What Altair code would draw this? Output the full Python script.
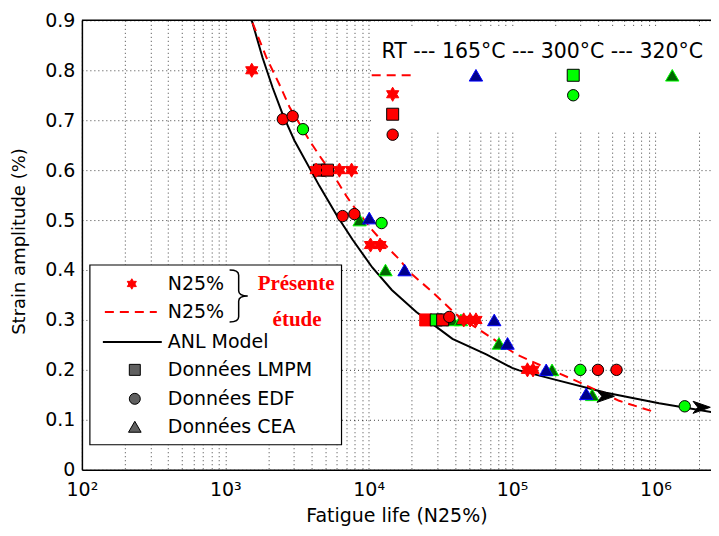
import altair as alt
import pandas as pd

# ---------------- data ----------------
# ANL model curve
anl_N = [1530, 1820, 2140, 2510, 3040, 4540, 5970, 7710, 10600, 14500, 21500, 27800,
         38400, 66100, 100000, 112000, 190000, 453000, 1060000, 2730000]
anl_eps = [0.900, 0.825, 0.765, 0.712, 0.659, 0.568, 0.510, 0.461, 0.405, 0.360, 0.316, 0.292,
           0.262, 0.231, 0.204, 0.199, 0.182, 0.154, 0.133, 0.113]

# N25% fit (présente étude), dashed
fit_N = [1550, 1940, 2390, 2810, 3870, 4540, 5970, 7000, 7710, 10600, 13950, 16400, 19200,
         27800, 40800, 66100, 107000, 173000, 280000, 558000, 1000000]
fit_eps = [0.895, 0.825, 0.771, 0.726, 0.659, 0.629, 0.580, 0.548, 0.530, 0.480, 0.441, 0.421,
           0.396, 0.356, 0.311, 0.271, 0.231, 0.204, 0.178, 0.138, 0.115]

# N25% points (RT)
star_N = [1530, 4300, 6250, 7600, 10300, 12000, 46000, 51000, 56000, 128000, 140000]
star_eps = [0.80, 0.60, 0.60, 0.60, 0.45, 0.45, 0.30, 0.30, 0.30, 0.20, 0.20]

# LMPM squares
sq_rt_N = [4540, 5160, 32800]
sq_rt_eps = [0.60, 0.60, 0.30]
sq_rt2_N = [25000]
sq_rt2_eps = [0.30]
sq_300_N = [29600]
sq_300_eps = [0.30]

# EDF circles
ci_rt_N = [2520, 2950, 6580, 7950, 36500, 397000, 535000]
ci_rt_eps = [0.702, 0.708, 0.508, 0.512, 0.306, 0.20, 0.20]
ci_300_N = [3480, 12300, 299000, 1600000]
ci_300_eps = [0.682, 0.494, 0.20, 0.127]

# CEA triangles
tri_165_N = [10100, 17800, 75100, 93000, 173000, 329000]
tri_165_eps = [0.504, 0.40, 0.30, 0.253, 0.20, 0.152]
tri_320_N = [8650, 13100, 38500, 44000, 81000, 190000, 362000]
tri_320_eps = [0.50, 0.40, 0.30, 0.30, 0.253, 0.20, 0.15]

# run-outs (arrows)
run_N = [450000, 2100000]
run_eps = [0.147, 0.125]

# temperature key (top right), placed in data space as in the original
key_line_N = [10500, 21500]
key_line_eps = [0.79, 0.79]
key_star = ([14700], [0.752])
key_sq_rt = ([14700], [0.712])
key_ci_rt = ([14700], [0.671])
key_tri_165 = ([56000], [0.79])
key_sq_300 = ([267000], [0.79])
key_ci_300 = ([267000], [0.75])
key_tri_320 = ([1310000], [0.79])
key_title = "RT --- 165°C --- 300°C --- 320°C"
key_title_pos = ([12300], [0.836])

x_grid = [k * 10 ** d for d in range(2, 7) for k in range(1, 10) if k * 10 ** d <= 2.44e6]
y_ticks = [round(0.1 * i, 1) for i in range(10)]

W, H = 630, 450
FONT = "DejaVu Sans"

xs = alt.Scale(type="log", domain=[100, 2.44e6], nice=False)
ys = alt.Scale(domain=[0, 0.9], nice=False)

label_expr = ("datum.value == 100 ? '10²' : datum.value == 1000 ? '10³' : "
              "datum.value == 10000 ? '10⁴' : datum.value == 100000 ? '10⁵' : "
              "datum.value == 1000000 ? '10⁶' : ''")

X = alt.X("N:Q", scale=xs, axis=alt.Axis(
    values=x_grid, labelExpr=label_expr, title="Fatigue life (N25%)", ticks=False,
    labelOverlap=False, labelFlush=False, labelPadding=11, labelFontSize=19,
    titleY=46, titleBaseline="middle", titleFontSize=19, titleFontWeight="normal"))
Y = alt.Y("eps:Q", scale=ys, axis=alt.Axis(
    values=y_ticks, format=".1~f", title="Strain amplitude (%)", ticks=False,
    labelFlush=False, labelPadding=7, labelFontSize=19,
    titleX=-62, titleY=H / 2 - 4, titleAngle=270, titleAlign="center", titleBaseline="middle",
    titleFontSize=18, titleFontWeight="normal"))


def df(n, e):
    return pd.DataFrame({"N": n, "eps": e})


one = alt.Data(values=[{"a": 1}])

STAR = ("M0,-1 L0.289,-0.5 L0.866,-0.5 L0.577,0 L0.866,0.5 L0.289,0.5 L0,1 "
        "L-0.289,0.5 L-0.866,0.5 L-0.577,0 L-0.866,-0.5 L-0.289,-0.5 Z")
ARROW = "M1,0 L-1,-0.7 L-0.45,0 L-1,0.7 Z"
BRACE = "M-0.35,-1 Q0,-1 0,-0.8 L0,-0.2 Q0,0 0.35,0 Q0,0 0,0.2 L0,0.8 Q0,1 -0.35,1"

RED, GREEN, BLUE_F, BLUE_S, DG_F = "#ff0000", "#00ff00", "#00008b", "#0000ff", "#006400"


def pts(n, e, shape, size, fill, stroke, sw=1.0):
    return alt.Chart(df(n, e)).mark_point(
        shape=shape, size=size, filled=True, fill=fill, stroke=stroke, strokeWidth=sw,
        opacity=1, clip=True).encode(x=X, y=Y)


layers = []
# white background behind temperature key
layers.append(alt.Chart(one).mark_rect(fill="white").encode(
    x=alt.value(290), x2=alt.value(W), y=alt.value(6), y2=alt.value(110)))
# top border
layers.append(alt.Chart(one).mark_rule(color="black", strokeWidth=1.5).encode(
    x=alt.value(0), x2=alt.value(W), y=alt.value(0)))

# curves
layers.append(alt.Chart(df(anl_N, anl_eps)).mark_line(color="black", strokeWidth=2, clip=True)
              .encode(x=X, y=Y, order=alt.Order("N:Q")))
layers.append(alt.Chart(df(fit_N, fit_eps)).mark_line(color=RED, strokeWidth=2, strokeDash=[9, 6], clip=True)
              .encode(x=X, y=Y, order=alt.Order("N:Q")))
layers.append(alt.Chart(df(key_line_N, key_line_eps)).mark_line(color=RED, strokeWidth=2, strokeDash=[9, 6])
              .encode(x=X, y=Y))

# markers
layers.append(pts(tri_320_N + key_tri_320[0], tri_320_eps + key_tri_320[1], "triangle-up", 180, DG_F, GREEN))
layers.append(pts(tri_165_N + key_tri_165[0], tri_165_eps + key_tri_165[1], "triangle-up", 180, BLUE_F, BLUE_S))
layers.append(pts(sq_rt2_N, sq_rt2_eps, "square", 144, RED, RED))
layers.append(pts(sq_300_N + key_sq_300[0], sq_300_eps + key_sq_300[1], "square", 144, GREEN, "black"))
layers.append(pts(sq_rt_N + key_sq_rt[0], sq_rt_eps + key_sq_rt[1], "square", 144, RED, "black"))
layers.append(pts(ci_rt_N + key_ci_rt[0], ci_rt_eps + key_ci_rt[1], "circle", 130, RED, "black"))
layers.append(pts(ci_300_N + key_ci_300[0], ci_300_eps + key_ci_300[1], "circle", 130, GREEN, "black"))
layers.append(pts(star_N + key_star[0], star_eps + key_star[1], STAR, 200, RED, RED))
layers.append(pts(run_N, run_eps, ARROW, 300, "black", "black"))

# key title
layers.append(alt.Chart(df(*key_title_pos)).mark_text(
    align="left", baseline="middle", font=FONT, fontSize=20.5, color="black")
    .encode(x=X, y=Y, text=alt.value(key_title)))

# ---------------- legend box (lower left) ----------------
layers.append(alt.Chart(one).mark_rect(fill="white", stroke="black", strokeWidth=1.2).encode(
    x=alt.value(8), x2=alt.value(260), y=alt.value(245), y2=alt.value(425)))


def ltext(txt, x, y, **kw):
    props = dict(align="left", baseline="middle", font=FONT, fontSize=19, color="black")
    props.update(kw)
    return alt.Chart(one).mark_text(**props).encode(
        x=alt.value(x), y=alt.value(y), text=alt.value(txt))


def lsym(x, y, shape, size, fill, stroke, filled=True, sw=1.0):
    return alt.Chart(one).mark_point(shape=shape, size=size, filled=filled, fill=fill,
                                     stroke=stroke, strokeWidth=sw, opacity=1).encode(
        x=alt.value(x), y=alt.value(y))


GRAY = "#606060"
layers += [
    lsym(50, 264, STAR, 110, RED, RED),
    ltext("N25%", 86, 264),
    alt.Chart(one).mark_rule(color=RED, strokeWidth=2, strokeDash=[9, 6]).encode(
        x=alt.value(23), x2=alt.value(75), y=alt.value(292)),
    ltext("N25%", 86, 292),
    alt.Chart(one).mark_point(shape=BRACE, size=2704, filled=False, fill="transparent",
                              stroke="black", strokeWidth=1.5, opacity=1).encode(
        x=alt.value(157), y=alt.value(276)),
    ltext("Présente", 176, 264, font="Liberation Serif", fontWeight="bold", fontSize=21, color=RED),
    ltext("étude", 191, 300, font="Liberation Serif", fontWeight="bold", fontSize=21, color=RED),
    alt.Chart(one).mark_rule(color="black", strokeWidth=2).encode(
        x=alt.value(21), x2=alt.value(80), y=alt.value(322)),
    ltext("ANL Model", 86, 322),
    lsym(53, 350, "square", 121, GRAY, "black"),
    ltext("Données LMPM", 86, 350),
    lsym(53, 379, "circle", 121, GRAY, "black"),
    ltext("Données EDF", 86, 379),
    lsym(53, 407, "triangle-up", 160, GRAY, "black"),
    ltext("Données CEA", 86, 407),
]

chart = alt.layer(*layers).properties(
    width=W, height=H,
    autosize=alt.AutoSizeParams(type="none"),
    padding={"left": 74, "top": 12, "right": 0, "bottom": 58},
    background="white",
).configure_view(stroke=None).configure_axis(
    labelFont=FONT, titleFont=FONT, labelColor="black", titleColor="black",
    domainColor="black", domainWidth=1.5,
    grid=True, gridColor="black", gridDash=[1, 3], gridWidth=1, gridOpacity=0.75,
)

chart.save("out.html", embed_options={"renderer": "svg", "actions": False})
